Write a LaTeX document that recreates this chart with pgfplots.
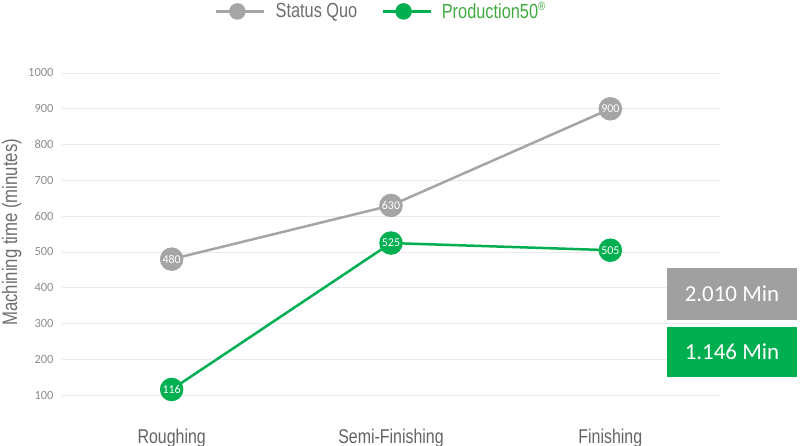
\documentclass[border=0pt]{standalone}
\usepackage{pgfplots}
\pgfplotsset{compat=1.18}
\usepackage{fontspec}
\setmainfont{Liberation Sans}[FakeStretch=0.8]
\newfontfamily\carlito{Carlito}

\definecolor{sqgray}{RGB}{165,165,165}
\definecolor{pgreen}{RGB}{0,176,80}
\definecolor{lgreen}{RGB}{64,170,64}
\definecolor{tickgray}{RGB}{140,140,140}
\definecolor{labgray}{RGB}{100,100,100}
\definecolor{ylabgray}{RGB}{110,110,110}
\definecolor{gridc}{RGB}{235,235,235}
\definecolor{boxgray}{RGB}{160,160,160}

\begin{document}
\begin{tikzpicture}
\path[use as bounding box] (0,0) rectangle (800bp,446bp);
\begin{axis}[
    scale only axis,
    width=658bp, height=358bp,
    at={(62bp,15bp)}, anchor=south west,
    xmin=-0.5, xmax=2.5, ymin=0, ymax=1000,
    xtick={0,1,2},
    xticklabels={Roughing,Semi-Finishing,Finishing},
    ytick={100,200,...,1000},
    axis line style={draw=none},
    tick style={draw=none},
    ymajorgrids,
    grid style={gridc, line width=0.8bp},
    /pgf/number format/1000 sep={},
    /pgf/number format/assume math mode=true,
    yticklabel style={font=\carlito\fontsize{12.5}{14}\selectfont, text=tickgray, xshift=-5bp},
    xticklabel style={font=\fontsize{20}{24}\selectfont, text=labgray, anchor=base, yshift=-12bp},
    ylabel={Machining time (minutes)},
    ylabel style={font=\fontsize{21}{24}\selectfont, text=ylabgray, at={(ticklabel cs:0.555)}},
    nodes near coords,
    nodes near coords align={center},
    every node near coord/.append style={anchor=center, text=white, font=\carlito\fontsize{12}{12}\selectfont},
    legend columns=2,
    legend style={draw=none, fill=none, at={(0.485,1.172)}, anchor=center,
        font=\fontsize{20.5}{22}\selectfont,
        /tikz/every odd column/.append style={column sep=8bp},
        /tikz/every even column/.append style={column sep=22bp}},
    legend image code/.code={
        \draw[#1, mark=none] (0bp,0bp) -- (48bp,0bp);
        \draw[#1, mark size=7bp] plot coordinates {(21bp,0bp)};
    },
]
\addplot[sqgray, line width=2.5bp, mark=*, mark size=10.5bp,
    mark options={solid, fill=sqgray, draw=sqgray}]
    coordinates {(0,480) (1,630) (2,900)};
\addlegendentry{\textcolor{ylabgray}{Status Quo}}
\addplot[pgreen, line width=2.5bp, mark=*, mark size=10.5bp,
    mark options={solid, fill=pgreen, draw=pgreen}]
    coordinates {(0,116) (1,525) (2,505)};
\addlegendentry{\textcolor{lgreen}{Production50\raisebox{0.38em}{\fontsize{12}{12}\selectfont\textregistered}}}
\end{axis}
\node[fill=boxgray, minimum width=130bp, minimum height=52bp, inner sep=0pt,
    text=white, font=\carlito\fontsize{23}{23}\selectfont] at (732bp,152bp) {2.010 Min};
\node[fill=pgreen, minimum width=130bp, minimum height=50bp, inner sep=0pt,
    text=white, font=\carlito\fontsize{23}{23}\selectfont] at (732bp,94bp) {1.146 Min};
\end{tikzpicture}
\end{document}
